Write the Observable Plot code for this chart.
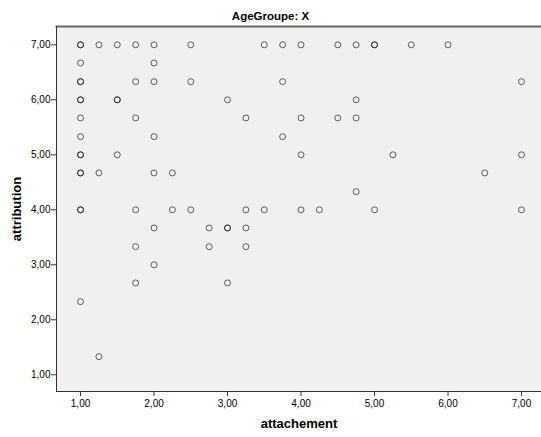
<!DOCTYPE html>
<html>
<head>
<meta charset="utf-8">
<script src="https://cdn.jsdelivr.net/npm/d3@7"></script>
<script src="https://cdn.jsdelivr.net/npm/@observablehq/plot@0.6"></script>
<style>
  html, body { margin: 0; padding: 0; background: white; }
  #wrap { position: relative; width: 541px; height: 437px; }
  #title { position: absolute; left: 0; top: 10px; width: 541px; text-align: center;
    font: bold 11.5px "Liberation Sans", Arial, sans-serif; color: #000; line-height: 12px; }
  g[aria-label$="axis label"], g[aria-label$="axis label"] text {
    font-weight: bold !important; font-size: 13px !important; fill: #000; }
  svg { display: block; }
</style>
</head>
<body>
<div id="wrap">
  <div id="title">AgeGroupe: X</div>
  <div id="chart"></div>
</div>
<script>
const chartTitle = "AgeGroupe: X";
const xLabel = "attachement";
const yLabel = "attribution";
const tickValues = [1, 2, 3, 4, 5, 6, 7];

// attachement (x) values, one per respondent
const attachement = [
  // attribution = 7
  1, 1, 1.25, 1.5, 1.75, 2, 2.5, 3.5, 3.75, 4, 4.5, 4.75, 5, 5, 5.5, 6,
  // 6.67
  1, 2,
  // 6.33
  1, 1, 1.75, 2, 2.5, 3.75, 7,
  // 6
  1, 1, 1.5, 1.5, 3, 4.75,
  // 5.67
  1, 1.75, 3.25, 4, 4.5, 4.75,
  // 5.33
  1, 2, 3.75,
  // 5
  1, 1, 1.5, 4, 5.25, 7,
  // 4.67
  1, 1, 1.25, 2, 2.25, 6.5,
  // 4.33
  4.75,
  // 4
  1, 1, 1.75, 2.25, 2.5, 3.25, 3.5, 4, 4.25, 5, 7,
  // 3.67
  2, 2.75, 3, 3, 3.25,
  // 3.33
  1.75, 2.75, 3.25,
  // 3
  2,
  // 2.67
  1.75, 3,
  // 2.33
  1,
  // 1.33
  1.25
];
// attribution (y) values, same order
const attribution = [
  7, 7, 7, 7, 7, 7, 7, 7, 7, 7, 7, 7, 7, 7, 7, 7,
  6.67, 6.67,
  6.33, 6.33, 6.33, 6.33, 6.33, 6.33, 6.33,
  6, 6, 6, 6, 6, 6,
  5.67, 5.67, 5.67, 5.67, 5.67, 5.67,
  5.33, 5.33, 5.33,
  5, 5, 5, 5, 5, 5,
  4.67, 4.67, 4.67, 4.67, 4.67, 4.67,
  4.33,
  4, 4, 4, 4, 4, 4, 4, 4, 4, 4, 4,
  3.67, 3.67, 3.67, 3.67, 3.67,
  3.33, 3.33, 3.33,
  3,
  2.67, 2.67,
  2.33,
  1.33
];

const data = attachement.map((x, i) => ({ x, y: attribution[i] }));
const fmt = d => d.toFixed(2).replace(".", ",");

const chart = Plot.plot({
  width: 541,
  height: 437,
  marginLeft: 56,
  marginRight: 0,
  marginTop: 26,
  marginBottom: 46,
  style: { fontFamily: "'Liberation Sans', Arial, sans-serif", fontSize: "10px", background: "white", color: "#000" },
  x: { domain: [0.673, 7.272] },
  y: { domain: [0.696, 7.333] },
  marks: [
    Plot.frame({ fill: "#f0f0f0", stroke: null }),
    Plot.frame({ anchor: "top", stroke: "#666", strokeWidth: 2 }),
    Plot.frame({ anchor: "left", stroke: "#333", strokeWidth: 1 }),
    Plot.frame({ anchor: "bottom", stroke: "#333", strokeWidth: 1 }),
    Plot.axisX({ ticks: tickValues, tickSize: 5, tickPadding: 3, tickFormat: fmt, stroke: "#333",
      label: xLabel, labelAnchor: "center", labelArrow: "none", labelOffset: 36 }),
    Plot.axisY({ ticks: tickValues, tickSize: 5, tickPadding: 1, tickFormat: fmt, stroke: "#333",
      label: yLabel, labelAnchor: "center", labelArrow: "none", labelOffset: 45 }),
    Plot.dot(data, { x: "x", y: "y", r: 3, stroke: "#000", strokeOpacity: 0.6, strokeWidth: 1, fill: "none" })
  ]
});
document.getElementById("chart").appendChild(chart);
</script>
</body>
</html>
